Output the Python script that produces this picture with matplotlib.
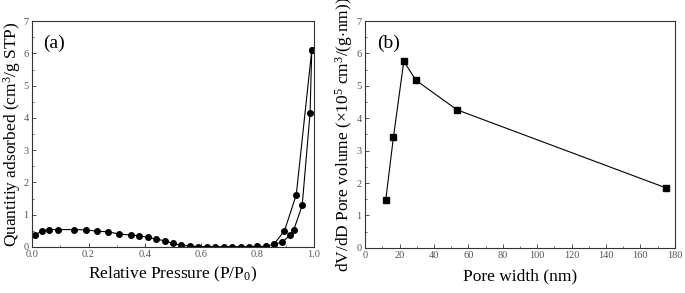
import matplotlib
matplotlib.use("Agg")
import matplotlib.pyplot as plt
from matplotlib.ticker import MultipleLocator

plt.rcParams['font.family'] = ['Liberation Serif', 'DejaVu Serif']
plt.rcParams['mathtext.fontset'] = 'custom'
plt.rcParams['mathtext.rm'] = 'Liberation Serif'
plt.rcParams['mathtext.it'] = 'Liberation Serif:italic'

# (a) N2 isotherm: adsorption branch
ads_p = [0.0095, 0.035, 0.059, 0.09, 0.15, 0.19, 0.23, 0.27, 0.31, 0.35, 0.38,
         0.41, 0.44, 0.47, 0.50, 0.53, 0.56, 0.59, 0.62, 0.65, 0.68, 0.71, 0.74,
         0.77, 0.80, 0.83, 0.858, 0.887, 0.916, 0.929, 0.959, 0.987, 0.993]
ads_q = [0.37, 0.50, 0.54, 0.54, 0.54, 0.53, 0.49, 0.47, 0.40, 0.37, 0.35,
         0.30, 0.25, 0.19, 0.11, 0.05, 0.03, 0.01, 0.01, 0.01, 0.01, 0.01, 0.01,
         0.01, 0.02, 0.02, 0.08, 0.15, 0.36, 0.53, 1.29, 4.15, 6.1]
# desorption branch
des_p = [0.993, 0.938, 0.896, 0.858]
des_q = [6.1, 1.62, 0.50, 0.08]

# (b) pore size distribution
pore_w = [12.0, 16.5, 22.5, 29.6, 53.5, 175.0]
pore_v = [1.48, 3.43, 5.76, 5.17, 4.26, 1.85]

fig = plt.figure(figsize=(6.85, 2.93), dpi=100)
ax1 = fig.add_axes([0.047, 0.157, 0.411, 0.771])
ax2 = fig.add_axes([0.533, 0.154, 0.452, 0.774])

ax1.plot(ads_p, ads_q, 'k-', marker='o', ms=4.0, lw=0.8)
ax1.plot(des_p, des_q, 'k-', marker='o', ms=4.0, lw=0.8)
ax1.set_xlim(0, 1.0)
ax1.set_ylim(0, 7)
ax1.xaxis.set_major_locator(MultipleLocator(0.2))
ax1.xaxis.set_minor_locator(MultipleLocator(0.1))
ax1.yaxis.set_major_locator(MultipleLocator(1))
ax1.yaxis.set_minor_locator(MultipleLocator(0.5))
ax1.set_xlabel(r'Relative Pressure (P/P$_0$)', fontsize=12.5, labelpad=4)
ax1.set_ylabel(r'Quantitiy adsorbed (cm$^3$/g STP)', fontsize=12.5, labelpad=0)
ax1.text(0.04, 0.88, '(a)', transform=ax1.transAxes, fontsize=14)

ax2.plot(pore_w, pore_v, 'k-', marker='s', ms=3.7, lw=0.8)
ax2.set_xlim(0, 180)
ax2.set_ylim(0, 7)
ax2.xaxis.set_major_locator(MultipleLocator(20))
ax2.xaxis.set_minor_locator(MultipleLocator(10))
ax2.yaxis.set_major_locator(MultipleLocator(1))
ax2.yaxis.set_minor_locator(MultipleLocator(0.5))
ax2.set_xlabel('Pore width (nm)', fontsize=12.5, labelpad=6)
ax2.set_ylabel(r'dV/dD Pore volume ($\times$10$^5$ cm$^3$/(g$\cdot$nm))', fontsize=12.5, labelpad=1)
ax2.text(0.04, 0.88, '(b)', transform=ax2.transAxes, fontsize=14)

for ax in (ax1, ax2):
    ax.tick_params(which='both', direction='in', labelsize=7.5, labelcolor='#555555',
                   colors='#333333')
    ax.tick_params(which='major', length=3, width=0.6)
    ax.tick_params(which='minor', length=1.5, width=0.5)
    ax.tick_params(axis='x', pad=2.5)
    ax.tick_params(axis='y', pad=2.5)
    for s in ax.spines.values():
        s.set_linewidth(0.8)
        s.set_color('#333333')

fig.savefig('out.png', dpi=100)
